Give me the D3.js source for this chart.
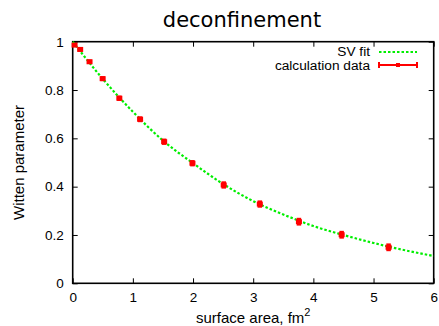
<!DOCTYPE html>
<html>
<head>
<meta charset="utf-8">
<script src="https://cdn.jsdelivr.net/npm/d3@7"></script>
<style>
  body { margin: 0; background: #fff; }
  text { font-family: "Liberation Sans", Arial, sans-serif; }
</style>
</head>
<body>
<div id="chart"></div>
<script>
// calculation data
const area = [0.031, 0.124, 0.28, 0.498, 0.775, 1.12, 1.52, 1.99, 2.51, 3.11, 3.76, 4.47, 5.25];
const witten = [0.986, 0.968, 0.917, 0.847, 0.766, 0.679, 0.586, 0.497, 0.407, 0.328, 0.255, 0.201, 0.149];
const wittenErr = [0.004, 0.005, 0.005, 0.006, 0.007, 0.008, 0.009, 0.009, 0.011, 0.011, 0.012, 0.012, 0.012];

// SV fit curve
const fitArea = [0, 0.5, 1, 1.5, 2, 2.5, 3, 3.5, 4, 4.5, 5, 5.5, 6];
const fitWitten = [1.0, 0.846, 0.71, 0.591, 0.497, 0.411, 0.34, 0.285, 0.237, 0.2, 0.167, 0.138, 0.113];

const xTicks = [0, 1, 2, 3, 4, 5, 6];
const yTicks = [0, 0.2, 0.4, 0.6, 0.8, 1];

const W = 439, H = 326;
const margin = { top: 41.7, right: 5.3, bottom: 42.7, left: 72.7 };
const width = W - margin.left - margin.right;
const height = H - margin.top - margin.bottom;

const svg = d3.select('#chart').append('svg')
  .attr('width', W)
  .attr('height', H);

const x = d3.scaleLinear().domain([0, 6]).range([margin.left, margin.left + width]);
const y = d3.scaleLinear().domain([0, 1]).range([margin.top + height, margin.top]);

// title
svg.append('text')
  .attr('x', 242)
  .attr('y', 27)
  .attr('text-anchor', 'middle')
  .style('font-family', '"DejaVu Sans", sans-serif')
  .style('font-size', '21px')
  .text('deconfinement');

// axes with inward ticks, mirrored
const tickLen = 5;
svg.append('g')
  .attr('transform', `translate(0,${y(0)})`)
  .call(d3.axisBottom(x).tickValues(xTicks).tickSize(-tickLen).tickPadding(9).tickFormat(d => String(d)))
  .call(g => g.select('.domain').remove());
svg.append('g')
  .attr('transform', `translate(0,${y(1)})`)
  .call(d3.axisTop(x).tickValues(xTicks).tickSize(-tickLen).tickFormat(''))
  .call(g => g.select('.domain').remove());
svg.append('g')
  .attr('transform', `translate(${x(0)},0)`)
  .call(d3.axisLeft(y).tickValues(yTicks).tickSize(-tickLen).tickPadding(9).tickFormat(d => String(d)))
  .call(g => g.select('.domain').remove());
svg.append('g')
  .attr('transform', `translate(${x(6)},0)`)
  .call(d3.axisRight(y).tickValues(yTicks).tickSize(-tickLen).tickFormat(''))
  .call(g => g.select('.domain').remove());

svg.selectAll('.tick text')
  .style('font-family', '"Liberation Sans", Arial, sans-serif')
  .style('font-size', '13.5px')
  .attr('fill', '#000');
svg.selectAll('.tick line').attr('stroke', '#000').attr('stroke-width', 1);

// border
svg.append('rect')
  .attr('x', x(0))
  .attr('y', y(1))
  .attr('width', x(6) - x(0))
  .attr('height', y(0) - y(1))
  .attr('fill', 'none')
  .attr('stroke', '#000')
  .attr('stroke-width', 1.6);

// axis labels
svg.append('text')
  .attr('transform', `translate(23.5,${(y(0) + y(1)) / 2}) rotate(-90)`)
  .attr('text-anchor', 'middle')
  .style('font-size', '15px')
  .text('Witten parameter');

const xl = svg.append('text')
  .attr('x', (x(0) + x(6)) / 2)
  .attr('y', 323)
  .attr('text-anchor', 'middle')
  .style('font-size', '15px');
xl.append('tspan').text('surface area, fm');
xl.append('tspan').attr('dy', -7).style('font-size', '11px').text('2');

// fit curve
const fit = fitArea.map((a, i) => ({ a: a, w: fitWitten[i] }));
const line = d3.line().x(d => x(d.a)).y(d => y(d.w)).curve(d3.curveMonotoneX);
svg.append('path')
  .datum(fit)
  .attr('d', line)
  .attr('fill', 'none')
  .attr('stroke', '#00ee00')
  .attr('stroke-width', 2.2)
  .attr('stroke-dasharray', '2.5,2');

// data with error bars
const pts = area.map((a, i) => ({ a: a, w: witten[i], e: wittenErr[i] }));
const g = svg.append('g');
g.selectAll('.eb').data(pts).enter().append('line')
  .attr('x1', d => x(d.a)).attr('x2', d => x(d.a))
  .attr('y1', d => y(d.w - d.e) + 1).attr('y2', d => y(d.w + d.e) - 1)
  .attr('stroke', '#ff0000')
  .attr('stroke-width', 4.5);
g.selectAll('.pt').data(pts).enter().append('rect')
  .attr('x', d => x(d.a) - 3)
  .attr('y', d => y(d.w) - 2.5)
  .attr('width', 6)
  .attr('height', 5)
  .attr('fill', '#ff0000');

// legend
const lg = svg.append('g');
lg.append('text').attr('x', 370).attr('y', 56).attr('text-anchor', 'end').style('font-size', '13.7px').text('SV fit');
lg.append('line')
  .attr('x1', 379).attr('x2', 417).attr('y1', 52).attr('y2', 52)
  .attr('stroke', '#00ee00').attr('stroke-width', 2.2).attr('stroke-dasharray', '2.5,2');
lg.append('text').attr('x', 370).attr('y', 69.5).attr('text-anchor', 'end').style('font-size', '13.7px').text('calculation data');
lg.append('line')
  .attr('x1', 379).attr('x2', 417).attr('y1', 65).attr('y2', 65)
  .attr('stroke', '#ff0000').attr('stroke-width', 2);
[379, 417].forEach(px => lg.append('line')
  .attr('x1', px).attr('x2', px).attr('y1', 62).attr('y2', 68)
  .attr('stroke', '#ff0000').attr('stroke-width', 2));
lg.append('rect').attr('x', 396).attr('y', 63).attr('width', 4).attr('height', 4).attr('fill', '#ff0000');
</script>
</body>
</html>
